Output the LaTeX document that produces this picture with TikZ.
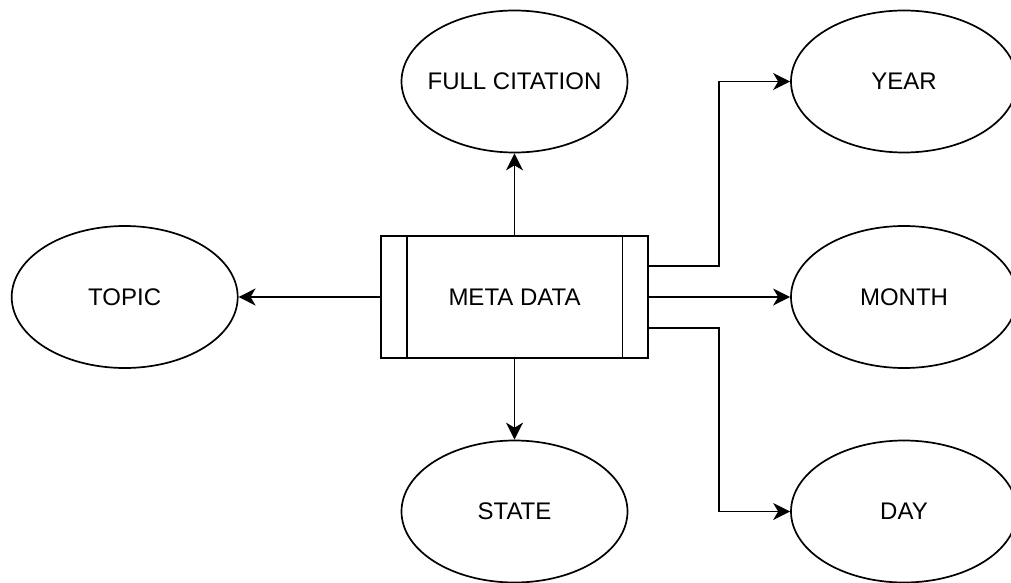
\documentclass[tikz,border=0pt]{standalone}
\usepackage{fontspec}
\setmainfont{Liberation Sans}
\usetikzlibrary{shapes.geometric,arrows.meta,calc}
\tikzset{
  ent/.style={ellipse,draw,line width=1.7pt,minimum width=226pt,minimum height=142pt,inner ysep=0pt,inner xsep=-40pt,font=\fontsize{24}{28}\selectfont},
  proc/.style={rectangle,draw,line width=1.7pt,minimum width=267pt,minimum height=122pt,inner sep=0pt,font=\fontsize{24}{28}\selectfont},
  arr/.style={line width=1.7pt,-{Stealth[length=17pt,width=17pt,inset=5pt]}}
}
\begin{document}
\begin{tikzpicture}[x=1pt,y=-1pt]
\useasboundingbox (0,0) rectangle (1011,583);
\node[proc] (md) at (514.5,297) {META DATA};
\draw[line width=1.7pt] ($(md.north west)+(26.5,0)$) -- ($(md.south west)+(26.5,0)$);
\draw[line width=1.7pt] ($(md.north east)+(-26.5,0)$) -- ($(md.south east)+(-26.5,0)$);
\node[ent] (fc) at (514.5,81.5) {FULL CITATION};
\node[ent] (topic) at (124.7,297) {TOPIC};
\node[ent] (state) at (514.5,511.5) {STATE};
\node[ent] (year) at (904,81.5) {YEAR};
\node[ent] (month) at (904,297) {MONTH};
\node[ent] (day) at (904,511.5) {DAY};
\coordinate (bx) at (719,0);
\coordinate (ea) at ($(md.east)+(0,-31)$);
\coordinate (eb) at ($(md.east)+(0,31)$);
\draw[arr] (md.north) -- (fc.south);
\draw[arr] (md.west) -- (topic.east);
\draw[arr] (md.south) -- (state.north);
\draw[arr] (md.east) -- (month.west);
\draw[arr] (ea) -- (ea -| bx) |- (year.west);
\draw[arr] (eb) -- (eb -| bx) |- (day.west);
\end{tikzpicture}
\end{document}
